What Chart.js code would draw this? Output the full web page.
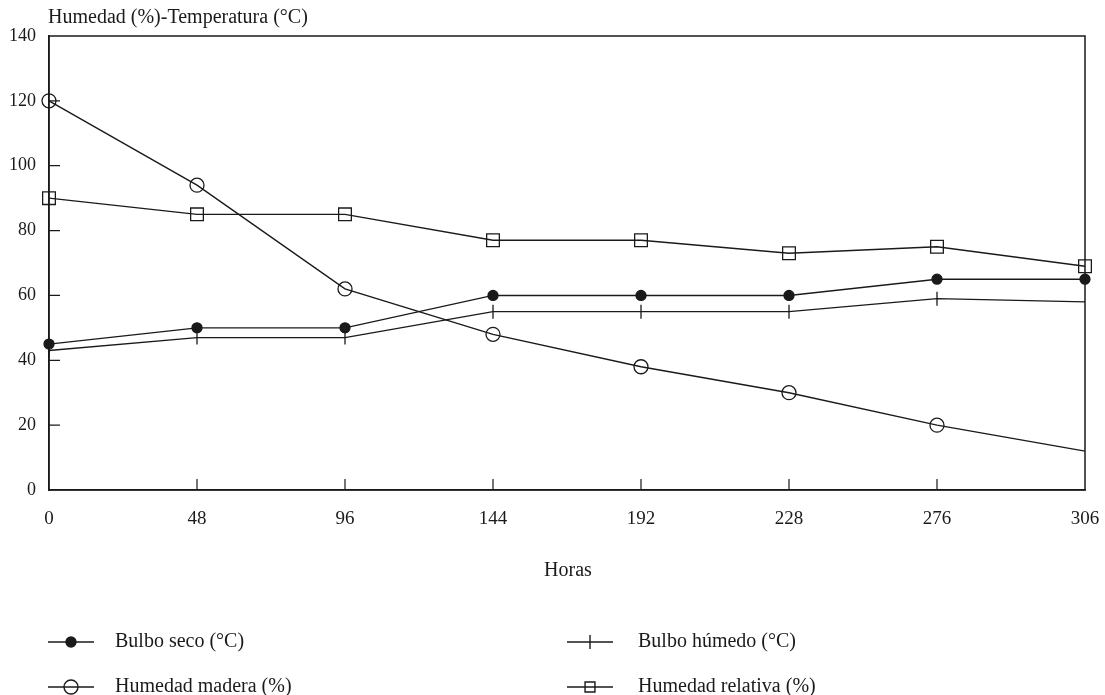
<!DOCTYPE html>
<html>
<head>
<meta charset="utf-8">
<script src="https://cdn.jsdelivr.net/npm/chart.js@4/dist/chart.umd.min.js"></script>
<style>
  html, body { margin: 0; padding: 0; background: #fff; }
  #wrap { width: 1105px; height: 695px; position: relative; }
</style>
</head>
<body>
<div id="wrap"><canvas id="chart" width="1105" height="695"></canvas></div>
<script>
// --- datos ---
const horas = ['0', '48', '96', '144', '192', '228', '276', '306'];
const bulboSeco = [45, 50, 50, 60, 60, 60, 65, 65];
const bulboHumedo = [43, 47, 47, 55, 55, 55, 59, 58];
const humedadMadera = [120, 94, 62, 48, 38, 30, 20, 12];
const humedadRelativa = [90, 85, 85, 77, 77, 73, 75, 69];
const yTicks = [0, 20, 40, 60, 80, 100, 120, 140];

const tituloY = 'Humedad (%)-Temperatura (°C)';
const tituloX = 'Horas';
const FONT = '"Liberation Serif", "DejaVu Serif", serif';
const INK = '#1a1a1a';

// marcadores por serie (sin marcador en el último punto donde falta en el original)
const sinUltimo = (r) => horas.map((_, i) => (i === horas.length - 1 ? 0 : r));

const datasets = [
  { label: 'Bulbo seco (°C)', data: bulboSeco, pointStyle: 'circle', pointRadius: 5,
    pointBackgroundColor: INK, rotation: 0 },
  { label: 'Bulbo húmedo (°C)', data: bulboHumedo, pointStyle: 'line', pointRadius: sinUltimo(7),
    pointBackgroundColor: '#fff', rotation: 90 },
  { label: 'Humedad madera (%)', data: humedadMadera, pointStyle: 'circle', pointRadius: sinUltimo(7),
    pointBackgroundColor: 'rgba(255,255,255,0)', rotation: 0 },
  { label: 'Humedad relativa (%)', data: humedadRelativa, pointStyle: 'rect', pointRadius: 9,
    pointBackgroundColor: 'rgba(255,255,255,0)', rotation: 0 }
].map(d => Object.assign({
  borderColor: INK,
  borderWidth: 1.4,
  pointBorderColor: INK,
  pointBorderWidth: 1.3,
  pointRotation: d.rotation,
  fill: false,
  tension: 0
}, d));

// marco, marcas internas, títulos y leyenda
const decorPlugin = {
  id: 'decor',
  afterDraw(chart) {
    const { ctx, chartArea: a, scales } = chart;
    ctx.save();
    ctx.strokeStyle = INK;
    ctx.lineWidth = 1.5;
    ctx.strokeRect(a.left, a.top, a.right - a.left, a.bottom - a.top);

    // marcas hacia dentro
    ctx.lineWidth = 1.2;
    ctx.beginPath();
    horas.forEach((h, i) => {
      if (i === 0 || i === horas.length - 1) return;
      const x = scales.x.getPixelForValue(i);
      ctx.moveTo(x, a.bottom);
      ctx.lineTo(x, a.bottom - 11);
    });
    yTicks.forEach(v => {
      if (v === 0 || v === 140) return;
      const y = scales.y.getPixelForValue(v);
      ctx.moveTo(a.left, y);
      ctx.lineTo(a.left + 11, y);
    });
    ctx.stroke();

    // textos
    ctx.fillStyle = INK;
    ctx.font = '20px ' + FONT;
    ctx.textBaseline = 'middle';
    ctx.textAlign = 'left';
    ctx.fillText(tituloY, 48, 18);
    ctx.textAlign = 'center';
    ctx.fillText(tituloX, 568, 571);

    // leyenda en dos columnas
    const cols = [48, 567];
    const rows = [642, 687];
    chart.data.datasets.forEach((ds, i) => {
      const x0 = cols[i % 2];
      const y0 = rows[Math.floor(i / 2)];
      ctx.strokeStyle = INK;
      ctx.lineWidth = 1.4;
      ctx.beginPath();
      ctx.moveTo(x0, y0);
      ctx.lineTo(x0 + 46, y0);
      ctx.stroke();
      ctx.fillStyle = ds.pointBackgroundColor;
      const r = Array.isArray(ds.pointRadius) ? ds.pointRadius[0] : ds.pointRadius;
      Chart.helpers.drawPoint(ctx, {
        pointStyle: ds.pointStyle,
        radius: ds.pointStyle === 'rect' ? 7 : r,
        rotation: ds.rotation,
        borderWidth: 1.3
      }, x0 + 23, y0);
      ctx.fillStyle = INK;
      ctx.textAlign = 'left';
      ctx.fillText(ds.label, x0 + (i % 2 ? 71 : 67), y0);
    });
    ctx.restore();
  }
};

new Chart(document.getElementById('chart'), {
  type: 'line',
  data: { labels: horas, datasets },
  options: {
    responsive: false,
    animation: false,
    devicePixelRatio: 1,
    layout: { padding: { top: 36, right: 20, left: 0, bottom: 0 } },
    plugins: { legend: { display: false }, tooltip: { enabled: false } },
    scales: {
      x: {
        type: 'category',
        offset: false,
        grid: { display: false, drawTicks: false },
        border: { display: true, color: INK, width: 1.5 },
        ticks: { color: INK, padding: 18, maxRotation: 0, autoSkip: false,
                 font: { family: FONT, size: 19 } },
        afterFit(scale) {
          scale.height = 205;
          scale.paddingLeft = 0;
          scale.paddingRight = 0;
        }
      },
      y: {
        min: 0,
        max: 140,
        afterBuildTicks(scale) { scale.ticks = yTicks.map(v => ({ value: v })); },
        grid: { display: false, drawTicks: false },
        border: { display: true, color: INK, width: 1.5 },
        ticks: { color: INK, padding: 13, font: { family: FONT, size: 18 } },
        afterFit(scale) {
          scale.width = 49;
          scale.paddingTop = 0;
          scale.paddingBottom = 0;
        }
      }
    }
  },
  plugins: [decorPlugin]
});
</script>
</body>
</html>
